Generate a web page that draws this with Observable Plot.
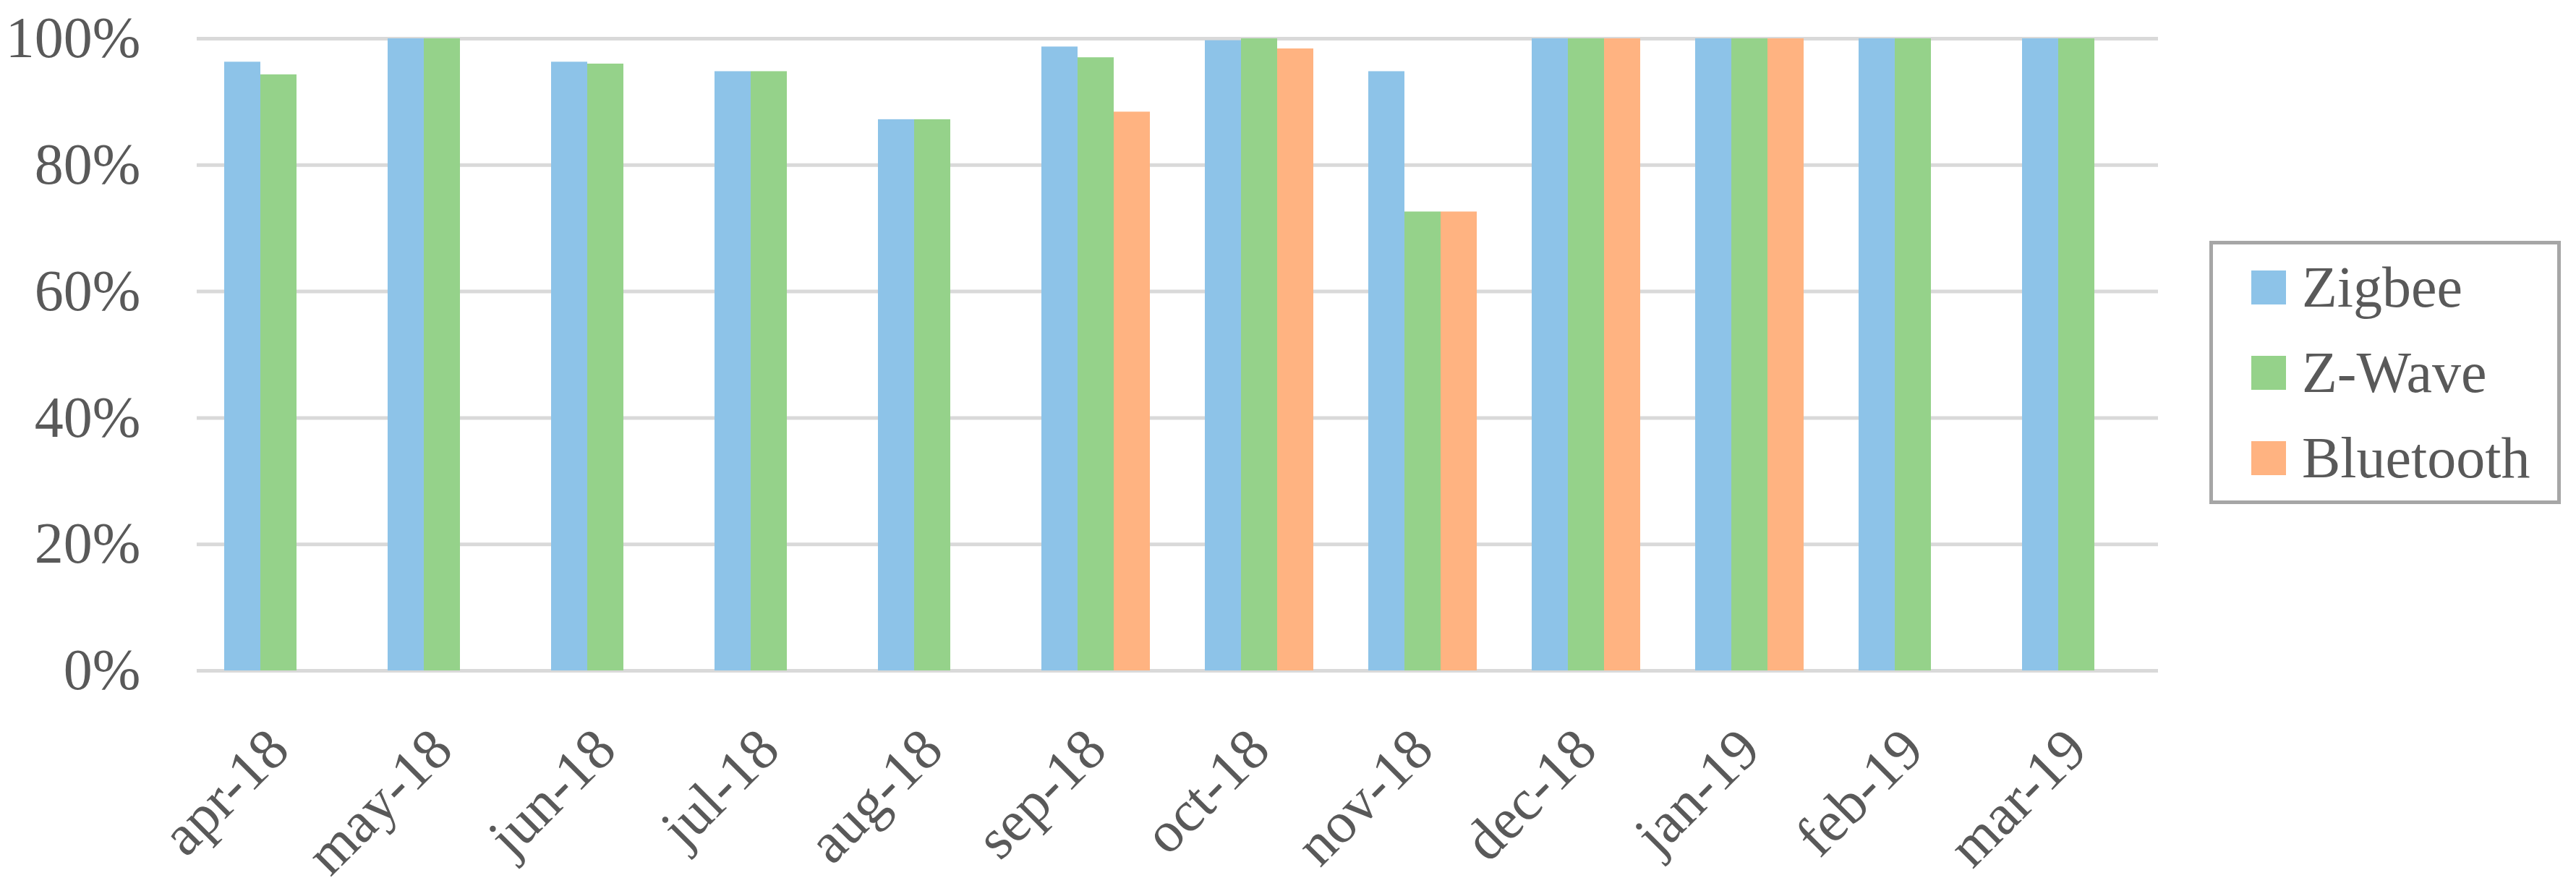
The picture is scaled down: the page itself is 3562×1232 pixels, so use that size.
<!DOCTYPE html>
<html>
<head>
<meta charset="utf-8">
<script src="https://cdn.jsdelivr.net/npm/d3@7"></script>
<script src="https://cdn.jsdelivr.net/npm/@observablehq/plot@0.6"></script>
<style>
  html, body { margin: 0; padding: 0; background: #fff; }
  #wrap { position: relative; width: 3562px; height: 1232px; }
  #legend {
    position: absolute; left: 3055px; top: 333px; width: 476px; height: 354px;
    border: 5px solid #a6a6a6; background: #fff;
    font-family: "Liberation Serif", serif; font-size: 80px; color: #595959;
    display: flex; flex-direction: column; justify-content: center; box-sizing: content-box;
  }
  .item { display: flex; align-items: center; height: 121px; padding-left: 53px; }
  .sw { width: 48px; height: 47px; margin-right: 22px; flex: none; }
</style>
</head>
<body>
<div id="wrap"><div id="chart"></div><div id="legend"></div></div>
<script>
const months = ["apr-18","may-18","jun-18","jul-18","aug-18","sep-18","oct-18","nov-18","dec-18","jan-19","feb-19","mar-19"];
const seriesNames = ["Zigbee","Z-Wave","Bluetooth"];
const zigbee    = [96.3, 100, 96.3, 94.8, 87.2, 98.7, 99.7, 94.8, 100, 100, 100, 100];
const zwave     = [94.3, 100, 96.0, 94.8, 87.2, 97.0, 100, 72.6, 100, 100, 100, 100];
const bluetooth = [null, null, null, null, null, 88.4, 98.4, 72.6, 100, 100, null, null];
const colors = ["#8DC3E8", "#95D28A", "#FFB381"];
const yTicks = [0, 20, 40, 60, 80, 100];

const seriesValues = [zigbee, zwave, bluetooth];
const rows = [];
months.forEach((m, i) => {
  seriesNames.forEach((s, j) => {
    const v = seriesValues[j][i];
    if (v != null) rows.push({month: m, series: s, value: v});
  });
});

const chart = Plot.plot({
  width: 3562,
  height: 1232,
  marginLeft: 268,
  marginRight: 575,
  marginTop: 53,
  marginBottom: 305,
  style: {fontFamily: "'Liberation Serif', serif", fontSize: "80px", color: "#595959", background: "transparent"},
  fx: {domain: months, paddingInner: 0, paddingOuter: 0, label: null},
  x: {domain: seriesNames, paddingInner: 0, paddingOuter: 0.75, axis: null},
  y: {domain: [0, 100], axis: null},
  color: {domain: seriesNames, range: colors},
  marks: [
    Plot.ruleY(yTicks, {stroke: "#d9d9d9", strokeWidth: 5}),
    Plot.axisY(yTicks, {tickFormat: d => d + "%", tickSize: 0, tickPadding: 78, label: null}),
    Plot.axisFx({anchor: "bottom", tickRotate: -45, tickSize: 0, tickPadding: 95, label: null}),
    Plot.barY(rows, {fx: "month", x: "series", y: "value", fill: "series"})
  ]
});
document.getElementById("chart").appendChild(chart);

const legend = document.getElementById("legend");
seriesNames.forEach((s, j) => {
  const item = document.createElement("div");
  item.className = "item";
  const sw = document.createElement("div");
  sw.className = "sw";
  sw.style.background = colors[j];
  const label = document.createElement("span");
  label.textContent = s;
  item.appendChild(sw);
  item.appendChild(label);
  legend.appendChild(item);
});
</script>
</body>
</html>
